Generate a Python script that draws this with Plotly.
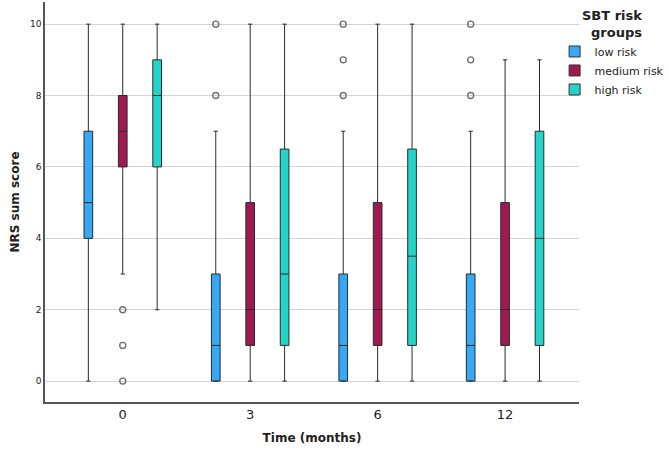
import plotly.graph_objects as go

time_labels = ["0", "3", "6", "12"]
groups = ["low risk", "medium risk", "high risk"]
colors = ["#35A9F5", "#9E1A50", "#25D4C8"]

# per group: values for each time point
q1 = {"low risk": [4, 0, 0, 0], "medium risk": [6, 1, 1, 1], "high risk": [6, 1, 1, 1]}
median = {"low risk": [5, 1, 1, 1], "medium risk": [7, 2, 2, 2], "high risk": [8, 3, 3.5, 4]}
q3 = {"low risk": [7, 3, 3, 3], "medium risk": [8, 5, 5, 5], "high risk": [9, 6.5, 6.5, 7]}
lower = {"low risk": [0, 0, 0, 0], "medium risk": [3, 0, 0, 0], "high risk": [2, 0, 0, 0]}
upper = {"low risk": [10, 7, 7, 7], "medium risk": [10, 10, 10, 9], "high risk": [10, 10, 10, 9]}
outliers = {
    "low risk": [[], [8, 10], [8, 9, 10], [8, 9, 10]],
    "medium risk": [[2, 1, 0], [], [], []],
    "high risk": [[], [], [], []],
}

offset = 0.27
box_w = 0.068

fig = go.Figure()
for g, name in enumerate(groups):
    xs = [i + (g - 1) * offset for i in range(len(time_labels))]
    fig.add_trace(go.Box(
        x=xs, q1=q1[name], median=median[name], q3=q3[name],
        lowerfence=lower[name], upperfence=upper[name],
        width=box_w, whiskerwidth=0.5,
        fillcolor=colors[g], line=dict(color="#2a2a2a", width=1),
        showlegend=False, name=name, boxpoints=False,
    ))
    ox, oy = [], []
    for i, vals in enumerate(outliers[name]):
        for v in vals:
            ox.append(xs[i]); oy.append(v)
    if ox:
        fig.add_trace(go.Scatter(
            x=ox, y=oy, mode="markers", showlegend=False,
            marker=dict(symbol="circle-open", size=6, color="#707070", line=dict(width=1.4)),
        ))
    fig.add_trace(go.Scatter(
        x=[None], y=[None], mode="markers", name=name,
        marker=dict(symbol="square", size=11, color=colors[g], line=dict(color="#333", width=1)),
    ))

fig.update_layout(
    width=669, height=453,
    margin=dict(l=45, r=90, t=2, b=51, autoexpand=False),
    paper_bgcolor="white", plot_bgcolor="white",
    font=dict(family="DejaVu Sans", color="#222"),
    legend=dict(
        xref="container", yref="container",
        x=0.829, y=0.993, xanchor="left", yanchor="top",
        bgcolor="rgba(0,0,0,0)",
        title=dict(text="<b>SBT risk<br>&nbsp;&nbsp;groups</b>", font=dict(size=13), side="top center"),
        font=dict(size=11), itemwidth=30, tracegroupgap=0,
    ),
    xaxis=dict(
        range=[-0.61, 3.58], tickvals=list(range(len(time_labels))), ticktext=time_labels,
        showgrid=False, zeroline=False, showline=True, linecolor="#555", linewidth=1.5,
        tickfont=dict(size=13), ticks="",
        title=dict(text="<b>Time (months)</b>", font=dict(size=12), standoff=12),
    ),
    yaxis=dict(
        range=[-0.585, 10.62], tickvals=[0, 2, 4, 6, 8, 10],
        showgrid=True, gridcolor="#d4d4d4", gridwidth=1.2, zeroline=False,
        showline=True, linecolor="#555", linewidth=1.5, ticks="",
        tickfont=dict(size=9),
        title=dict(text="<b>NRS sum score</b>", font=dict(size=12), standoff=8),
    ),
)

fig.write_html("out.html", config={"displayModeBar": False},
               post_script="document.body.style.margin='0';")
